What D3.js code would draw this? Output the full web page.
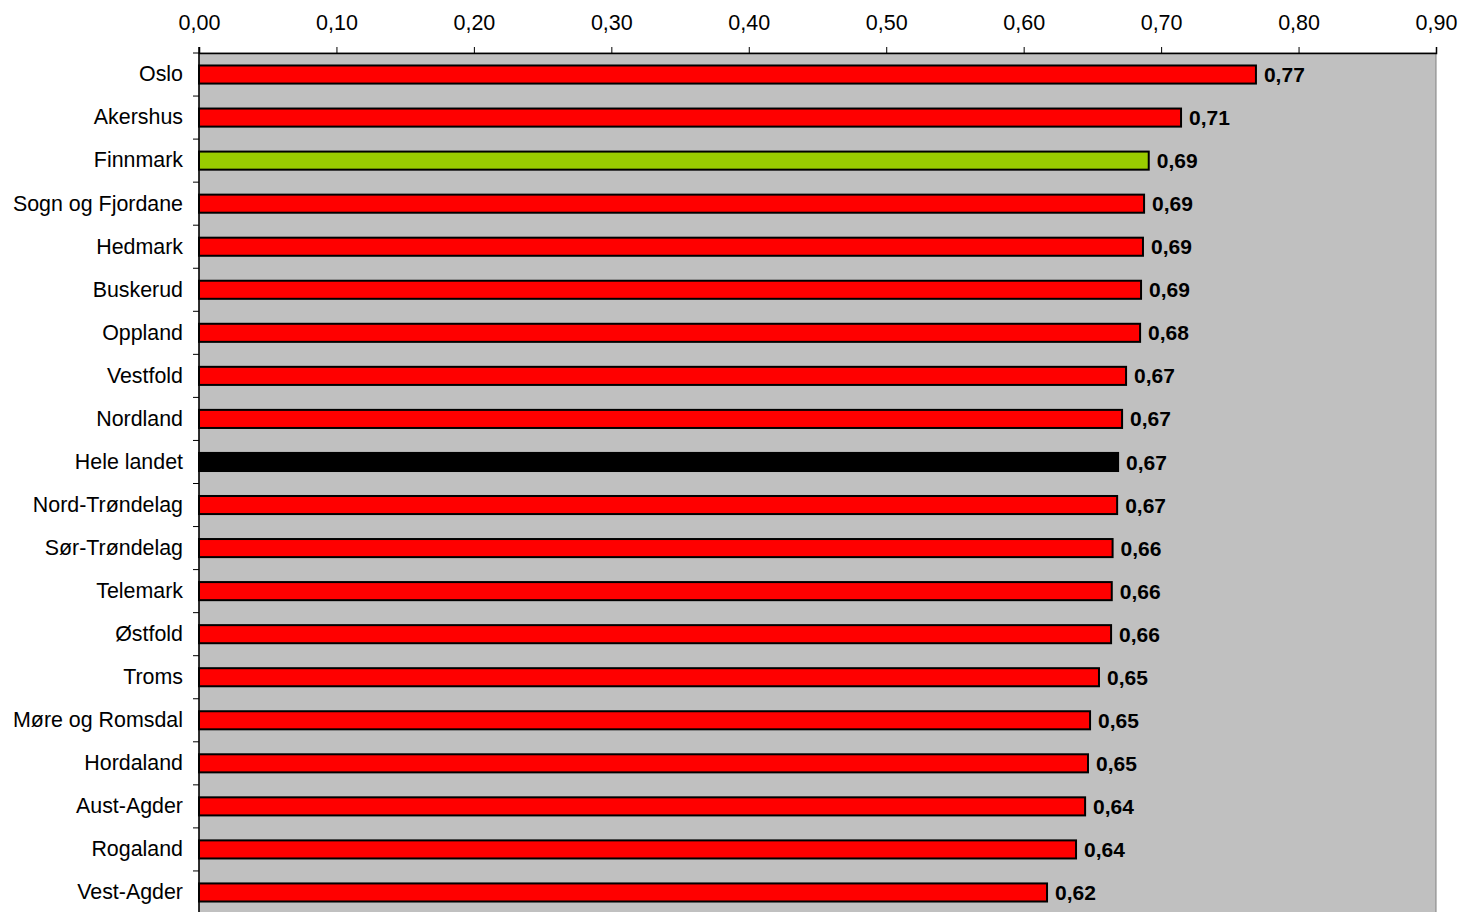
<!DOCTYPE html>
<html>
<head>
<meta charset="utf-8">
<script src="https://cdn.jsdelivr.net/npm/d3@7"></script>
<style>
  body { margin: 0; background: #fff; }
  svg { display: block; font-family: "Liberation Sans", Arial, sans-serif; }
</style>
</head>
<body>
<div id="chart"></div>
<script>
const categories = ['Oslo', 'Akershus', 'Finnmark', 'Sogn og Fjordane', 'Hedmark', 'Buskerud',
  'Oppland', 'Vestfold', 'Nordland', 'Hele landet', 'Nord-Trøndelag', 'Sør-Trøndelag',
  'Telemark', 'Østfold', 'Troms', 'Møre og Romsdal', 'Hordaland', 'Aust-Agder',
  'Rogaland', 'Vest-Agder'];
const values = [0.769, 0.7145, 0.691, 0.6876, 0.6868, 0.6854, 0.6847, 0.6745, 0.6716, 0.6687,
  0.668, 0.6647, 0.6641, 0.6636, 0.6548, 0.6483, 0.6468, 0.6447, 0.6381, 0.617];
const xTicks = [0, 0.1, 0.2, 0.3, 0.4, 0.5, 0.6, 0.7, 0.8, 0.9];
const highlight = { 'Finnmark': '#99cc00', 'Hele landet': '#000000' };

const data = categories.map((c, i) => ({ name: c, value: values[i] }));

const width = 1462;
const height = 912;
const margin = { top: 53, left: 199, right: 26 };
const plotBottom = margin.top + 43.05 * categories.length;

const fmt = (d) => d3.format('.2f')(d).replace('.', ',');

const x = d3.scaleLinear([0, 0.9], [margin.left, width - margin.right]);
const y = d3.scaleBand(categories, [margin.top, plotBottom])
  .paddingInner(0.58)
  .paddingOuter(0.29);

const svg = d3.select('#chart')
  .append('svg')
  .attr('width', width)
  .attr('height', height)
  .attr('viewBox', [0, 0, width, height]);

// plot area
svg.append('rect')
  .attr('x', x(0))
  .attr('y', margin.top)
  .attr('width', x(0.9) - x(0))
  .attr('height', plotBottom - margin.top)
  .attr('fill', '#c0c0c0')
  .attr('stroke', '#808080')
  .attr('stroke-width', 1);

// bars
svg.append('g')
  .selectAll('rect')
  .data(data)
  .join('rect')
  .attr('x', x(0))
  .attr('y', (d) => y(d.name))
  .attr('width', (d) => x(d.value) - x(0))
  .attr('height', y.bandwidth())
  .attr('fill', (d) => highlight[d.name] || '#ff0000')
  .attr('stroke', '#000')
  .attr('stroke-width', 2);

// value labels
svg.append('g')
  .selectAll('text')
  .data(data)
  .join('text')
  .attr('x', (d) => x(d.value) + 8)
  .attr('y', (d) => y(d.name) + y.bandwidth() / 2)
  .attr('dy', '0.36em')
  .attr('font-size', 21)
  .attr('font-weight', 'bold')
  .attr('fill', '#000')
  .text((d) => fmt(d.value));

// top axis
const xAxis = d3.axisTop(x)
  .tickValues(xTicks)
  .tickFormat(fmt)
  .tickSize(6)
  .tickPadding(17);

svg.append('g')
  .attr('transform', `translate(0,${margin.top})`)
  .call(xAxis)
  .call((g) => g.selectAll('text').attr('font-size', 21.5).attr('font-family', null).attr('fill', '#000'))
  .call((g) => g.selectAll('line').attr('stroke', '#000'))
  .call((g) => g.select('.domain').attr('stroke', '#000').attr('stroke-width', 1.5));

// left axis: labels at centers, ticks between categories
const yAxis = d3.axisLeft(y).tickSize(0).tickPadding(16);

svg.append('g')
  .attr('transform', `translate(${x(0)},0)`)
  .call(yAxis)
  .call((g) => g.select('.domain').remove())
  .call((g) => g.selectAll('text').attr('font-size', 21.4).attr('font-family', null).attr('fill', '#000'));

const bounds = categories.map((c) => y(c) + y.bandwidth() / 2 - y.step() / 2).concat([plotBottom]);

svg.append('g')
  .selectAll('line')
  .data(bounds)
  .join('line')
  .attr('x1', x(0) - 6)
  .attr('x2', x(0))
  .attr('y1', (d) => d)
  .attr('y2', (d) => d)
  .attr('stroke', '#000');

svg.append('line')
  .attr('x1', x(0))
  .attr('x2', x(0))
  .attr('y1', margin.top - 6)
  .attr('y2', plotBottom)
  .attr('stroke', '#000')
  .attr('stroke-width', 1.5);
</script>
</body>
</html>
